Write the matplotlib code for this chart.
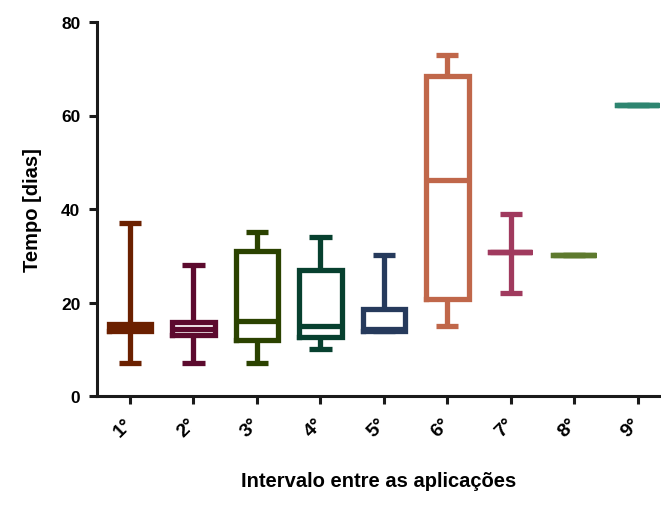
import matplotlib
matplotlib.use("Agg")
import matplotlib.pyplot as plt

plt.rcParams['font.family'] = ['Liberation Sans', 'DejaVu Sans']

# data
categories = ['1°', '2°', '3°', '4°', '5°', '6°', '7°', '8°', '9°']
whislo = [7, 7, 7, 10, 13.8, 15, 22, 30.2, 62.3]
q1 = [14, 13, 12, 12.6, 13.8, 20.8, 30.7, 30.2, 62.3]
med = [14.6, 14.4, 16, 15, 14.4, 46.3, 30.7, 30.2, 62.3]
q3 = [15.4, 15.8, 31, 27, 18.7, 68.4, 30.7, 30.2, 62.3]
whishi = [37, 28, 35, 34, 30.2, 73, 39, 30.2, 62.3]
colors = ['#6b2000', '#5c0a2e', '#2b4200', '#07402f', '#263a5c',
          '#c0674a', '#a03a5e', '#5e7a2e', '#2e8570']

fig = plt.figure(figsize=(6.61, 5.06), dpi=100)
ax = fig.add_axes([97/661, 109/506, 563/661, 374/506])

lw = 3.8
for i in range(len(categories)):
    st = [{'whislo': whislo[i], 'q1': q1[i], 'med': med[i], 'q3': q3[i],
           'whishi': whishi[i], 'fliers': []}]
    c = colors[i]
    props = dict(color=c, linewidth=lw, solid_capstyle='butt')
    ax.bxp(st, positions=[i + 1], widths=0.67, capwidths=0.35,
           showfliers=False,
           boxprops=dict(color=c, linewidth=lw, solid_joinstyle='miter',
                         solid_capstyle='projecting'),
           whiskerprops=props, capprops=props, medianprops=props)

ax.set_xlim(0.48, 9.35)
ax.set_ylim(0, 80)
ax.set_yticks([0, 20, 40, 60, 80])
ax.set_xticks(range(1, len(categories) + 1))
ax.set_xticklabels(categories, rotation=45, ha='right', va='center',
                   rotation_mode='anchor', fontsize=14, fontweight='bold')
for lab in ax.get_yticklabels():
    lab.set_fontsize(12.5)
    lab.set_fontweight('bold')

for s in ['top', 'right']:
    ax.spines[s].set_visible(False)
for s in ['left', 'bottom']:
    ax.spines[s].set_linewidth(2.2)
    ax.spines[s].set_color('#1a1a1a')
ax.tick_params(axis='both', length=6, width=2.2, color='#1a1a1a', pad=6)
ax.tick_params(axis='x', pad=12)

ax.set_ylabel('Tempo [dias]', fontsize=14.5, fontweight='bold', labelpad=14)
ax.set_xlabel('Intervalo entre as aplicações', fontsize=14.5,
              fontweight='bold', labelpad=22)

fig.savefig('out.png', dpi=100)
